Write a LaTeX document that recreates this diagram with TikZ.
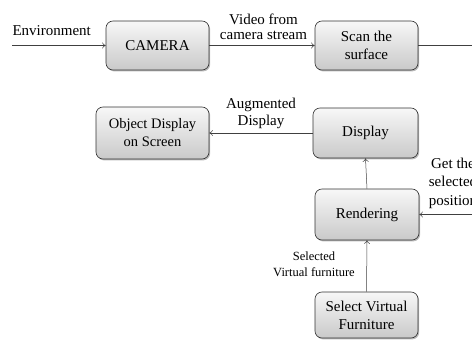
\documentclass[tikz,border=0pt]{standalone}
\usepackage{fontspec}
\setmainfont{Liberation Serif}
\usetikzlibrary{arrows.meta,shadows}

\tikzset{
  stage/.style={draw=black!80, line width=0.6pt, rounded corners=7pt,
    minimum width=103pt, minimum height=49pt, align=center,
    top color=gray!6, bottom color=gray!42,
    drop shadow={shadow xshift=1.2pt, shadow yshift=-1.4pt, opacity=0.45, fill=black!60},
    font=\fontsize{15}{18}\selectfont},
  flow/.style={draw=black!75, line width=0.5pt},
  arr/.style={flow, -{To[length=3.5pt,width=6pt]}},
  lbl/.style={align=center, inner sep=0pt}
}

\begin{document}
\begin{tikzpicture}[x=1pt,y=-1pt]
  \useasboundingbox (0,0) rectangle (472,340);
  \clip (0,0) rectangle (472,340);

  % processing stages
  \node[stage] (cam)  at (157.5,45.5) {CAMERA};
  \node[stage] (scan) at (366.5,45.5) {Scan the\\surface};
  \node[stage, minimum width=113pt, minimum height=52pt, font=\fontsize{14.5}{18}\selectfont]
        (obj)  at (152.5,133) {Object Display\\on Screen};
  \node[stage, minimum width=105pt, minimum height=50pt] (disp) at (365.5,133) {Display};
  \node[stage, minimum width=104pt, minimum height=51pt] (rend) at (367,214.5) {Rendering};
  \node[stage, minimum height=46pt] (sel) at (366.5,315) {Select Virtual\\Furniture};

  % free ends of the incoming and outgoing lines
  \coordinate (envin)   at (12,45.5);
  \coordinate (scanout) at (480,45.5);
  \coordinate (posin)   at (480,214.5);

  % connectors
  \draw[arr]  (envin) -- (cam.west);
  \draw[arr]  (cam.east) -- (scan.west);
  \draw[flow] (scan.east) -- (scanout);
  \draw[arr]  (disp.west) -- (obj.east);
  \draw[arr]  (rend.north) -- (disp.south);
  \draw[arr]  (posin) -- (rend.east);
  \draw[arr]  (sel.north) -- (rend.south);

  % connector labels
  \node[lbl, anchor=base, font=\fontsize{15}{15}\selectfont] (envlbl) at (51.7,35) {Environment};
  \node[lbl, font=\fontsize{15}{15}\selectfont] (vidlbl) at (263.5,26.4) {Video from\\camera stream};
  \node[lbl, font=\fontsize{15}{17}\selectfont] (auglbl) at (261,113) {Augmented\\Display};
  \node[lbl, font=\fontsize{12.5}{16}\selectfont] (sellbl) at (314,264.5) {Selected\\Virtual furniture};
  \node[lbl, font=\fontsize{15}{18.5}\selectfont] (poslbl) at (453,183) {Get the\\selected\\position};
\end{tikzpicture}
\end{document}
